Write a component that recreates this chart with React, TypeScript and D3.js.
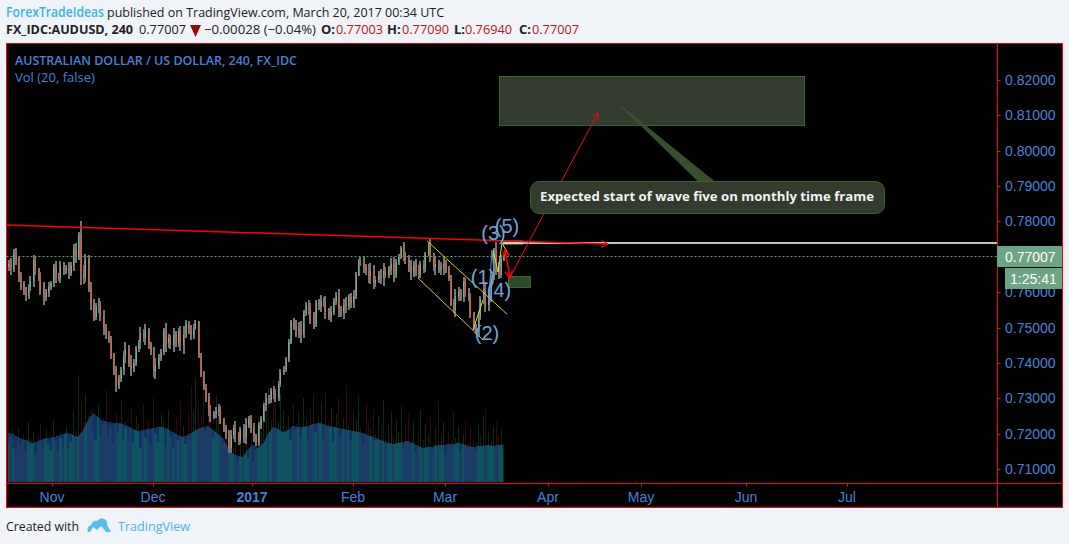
import React from "react";
import * as d3 from "d3";

const closes = [7680,7665,7712,7690,7640,7625,7600,7590,7615,7632,7690,7660,7640,7610,7585,7600,7615,7625,7670,7645,7640,7675,7660,7668,7655,7675,7722,7700,7762,7660,7640,7695,7610,7570,7530,7560,7565,7530,7500,7480,7465,7420,7375,7335,7355,7380,7420,7440,7400,7385,7400,7440,7455,7485,7470,7490,7450,7430,7375,7395,7415,7430,7490,7455,7470,7450,7480,7455,7490,7450,7480,7510,7490,7480,7500,7512,7420,7370,7330,7300,7265,7250,7255,7265,7270,7235,7215,7195,7160,7195,7215,7195,7180,7210,7190,7225,7240,7215,7190,7175,7225,7240,7280,7300,7295,7320,7315,7300,7340,7375,7380,7410,7460,7515,7505,7490,7495,7480,7540,7565,7550,7530,7510,7570,7560,7575,7570,7545,7530,7545,7575,7590,7550,7540,7565,7560,7585,7570,7590,7650,7690,7685,7670,7660,7645,7660,7625,7635,7650,7640,7660,7650,7665,7680,7650,7685,7700,7725,7705,7690,7670,7655,7675,7665,7650,7680,7665,7705,7735,7700,7670,7680,7665,7670,7680,7665,7640,7570,7550,7590,7600,7585,7630,7595,7590,7535,7500,7490,7530,7580,7610,7565,7580,7640,7720,7670,7650,7695,7701];
const wicks = [10,16,9,14,10,18,8,15,9,13,16,10,8,17,20,9,14,8,10,18,9,14,10,8,17,9,14,18,8,40,18,12,10,19,12,9,18,11,20,11,9,10,8,16,10,8,15,20,12,22,11,9,10,16,11,20,10,9,15,20,11,9,8,24,12,10,20,11,9,15,24,10,9,16,11,8,6,9,8,10,14,16,9,10,15,8,9,10,14,16,9,20,11,10,16,20,9,14,15,10,9,11,8,16,10,9,16,11,9,8,10,6,8,6,12,16,20,24,9,8,14,20,15,8,10,16,11,20,10,15,9,11,20,10,16,20,9,14,16,8,5,10,16,11,20,22,16,11,9,16,22,11,10,16,20,9,8,6,16,10,14,20,12,20,11,9,10,8,4,16,11,20,10,16,22,11,9,8,10,20,16,9,14,10,16,9,8,9,16,8,14,20,18,8,6,22,14,9,6];
const volumes = [46,52,40,38,55,42,48,36,60,44,50,34,46,58,40,52,44,38,62,48,36,50,42,56,40,46,70,52,107,78,60,88,66,72,58,48,76,54,64,92,50,62,44,70,56,82,48,60,52,74,46,66,58,40,78,50,62,44,84,54,46,68,60,42,72,52,40,64,48,80,56,44,68,96,72,104,80,66,90,58,74,62,50,86,70,56,44,60,40,52,34,48,28,44,36,58,30,46,26,38,64,50,82,70,94,62,102,76,60,88,72,56,66,48,78,58,70,52,84,62,48,72,88,56,66,80,50,90,60,74,46,68,84,52,64,96,58,48,70,62,86,54,44,78,60,52,72,48,66,56,82,44,58,70,46,62,50,76,40,56,68,44,60,36,52,72,42,58,48,64,38,54,80,46,60,34,50,42,70,44,56,36,48,62,40,54,44,38,58,46,66,72,50,42,56,60,46,52,38];
const volumeAverage = [49,48,45,43,41,39,41,43,44,45,46,48,49,47,45,52,62,69,65,61,60,59,59,58,56,53,51,52,53,54,55,55,53,50,47,45,47,50,53,55,56,52,48,44,35,28,26,25,33,37,34,38,48,55,53,50,52,56,55,55,56,58,59,58,56,55,54,53,52,51,50,49,47,45,43,41,39,38,39,40,41,39,36,34,35,35,37,37,38,38,39,38,36,35,36,36,37,36,37,37];

const monthTicks = [
  { bar: 17.6, label: "Nov", bold: false },
  { bar: 58, label: "Dec", bold: false },
  { bar: 97.6, label: "2017", bold: true },
  { bar: 138, label: "Feb", bold: false },
  { bar: 174.8, label: "Mar", bold: false },
  { bar: 216, label: "Apr", bold: false },
  { bar: 253.2, label: "May", bold: false },
  { bar: 295.2, label: "Jun", bold: false },
  { bar: 335.6, label: "Jul", bold: false },
];
const priceTicks = [8200,8100,8000,7900,7800,7700,7600,7500,7400,7300,7200,7100];
const waveLabels = [
  { bar: 194.2, pip: 7748, label: "(3)" },
  { bar: 199.6, pip: 7767, label: "(5)" },
  { bar: 190, pip: 7623, label: "(1)" },
  { bar: 196.4, pip: 7586, label: "(4)" },
  { bar: 191.6, pip: 7465, label: "(2)" },
];
const trendLine = [[-0.4, 7790], [240, 7736]];
const whiteLine = [[198, 7739], [395.6, 7739]];
const channelUpper = [[167.6, 7745], [199.6, 7538]];
const channelLower = [[164, 7640], [190, 7465]];
const waveA = [[186, 7493], [190, 7578]];
const waveB = [[194, 7719], [196, 7657], [197.6, 7739], [199.6, 7714]];
const waveBlue = [[192.4, 7592], [193.6, 7719], [194.4, 7657]];
const arrowShort = [[198.8, 7719], [200.8, 7640]];
const arrowLong = [[200.4, 7637], [236, 8107]];
const targetBox = [196.4, 318.4, 8211, 8073];
const boxSmallA = [200, 208.8, 7646, 7615];
const boxSmallB = [198, 205.6, 7747, 7736];
const calloutBox = [208.8, 350.4, 7914, 7824];
const calloutTip = [[276, 7914], [244.8, 8129], [282.4, 7914]];
const lastPrice = 7700.7;

const W = 1069, H = 544;
const L = 6.5, T = 43.5, PR = 997.5, R = 1062.5, PB = 483.5, B = 507.5;
const BLUE = "#4a80d8";
const RED = "#ff0000";
const x = d3.scaleLinear().domain([0, 395.6]).range([8, 997]);
const y = d3.scaleLinear().domain([8200, 7100]).range([80, 469]);
const vy = d3.scaleLinear().domain([0, 100]).range([482, 382]);
const lineGen = d3.line<number[]>().x(d => x(d[0])).y(d => y(d[1]));
const head = (p: number[][], size: number) => {
  const [a, b] = p;
  const ax = x(a[0]), ay = y(a[1]), bx = x(b[0]), by = y(b[1]);
  const t = Math.atan2(by - ay, bx - ax);
  const pt = (o: number) => `${bx - size * Math.cos(t + o)},${by - size * Math.sin(t + o)}`;
  return `M${pt(0.5)}L${bx},${by}L${pt(-0.5)}`;
};
const rectOf = (b: number[]) => ({
  x: Math.round(x(b[0])) + 0.5, y: Math.round(y(b[2])) + 0.5,
  width: Math.round(x(b[1]) - x(b[0])), height: Math.round(y(b[3]) - y(b[2])),
});
const ui = "'Open Sans', sans-serif";
const arial = "'Liberation Sans', Arial, sans-serif";
const INK = "#222";
const DARK = "#b01818";

export default function App() {
  const area = d3.area<number>().x((_, i) => x(i * 2)).y0(vy(0)).y1(d => vy(d));
  const areaPath = area(volumeAverage) || "";
  const ohlc: [string, string, number, number][] = [
    ["O:", "0.77003", 321, 336],
    ["H:", "0.77090", 387, 402],
    ["L:", "0.76940", 454, 465],
    ["C:", "0.77007", 519, 532],
  ];
  return (
    <svg width={W} height={H} style={{ position: "absolute", left: 0, top: 0, background: "#f0f3f7" }}>
      <text x={6} y={17} fontFamily={ui} fontSize={13.5} textLength={98} lengthAdjust="spacingAndGlyphs" fill="#3bb3e4" fontWeight={600}>ForexTradeIdeas</text>
      <text x={107} y={17} fontFamily={ui} fontSize={13.5} textLength={337} lengthAdjust="spacingAndGlyphs" fill={INK}>published on TradingView.com, March 20, 2017 00:34 UTC</text>
      <text x={6} y={34} fontFamily={ui} fontSize={13} fontWeight={700} fill={INK} textLength={127} lengthAdjust="spacingAndGlyphs">FX_IDC:AUDUSD, 240</text>
      <text x={139} y={34} fontFamily={ui} fontSize={13} fill={INK} textLength={47} lengthAdjust="spacingAndGlyphs">0.77007</text>
      <path d={d3.line()([[190, 25], [201, 25], [195.5, 37]]) + "Z"} fill="#8b0f0f" />
      <text x={204} y={34} fontFamily={ui} fontSize={13} fill={INK} textLength={112} lengthAdjust="spacingAndGlyphs">−0.00028 (−0.04%)</text>
      {ohlc.map(([k, v, kx, vx]) => (
        <g key={k}>
          <text x={kx} y={34} fontFamily={ui} fontSize={13} fontWeight={700} fill={INK}>{k}</text>
          <text x={vx} y={34} fontFamily={ui} fontSize={13} fill={DARK} textLength={47} lengthAdjust="spacingAndGlyphs">{v}</text>
        </g>
      ))}

      <rect x={L} y={T} width={R - L} height={B - T} fill="#000" stroke={RED} />

      <defs><clipPath id="maClip"><path d={areaPath} /></clipPath></defs>
      <g shapeRendering="crispEdges">
        {volumes.map((v, i) => (
          <rect key={i} x={Math.round(x(i))} width={1} y={vy(v)} height={vy(0) - vy(v)}
            fill={i > 0 && closes[i] < closes[i - 1] ? "#2c0c10" : "#0b2c11"} />
        ))}
        <path d={areaPath} fill="#0c3660" />
        <g clipPath="url(#maClip)">
          {volumes.map((v, i) => (
            <rect key={i} x={x(i) - 1.25} width={2.5} y={vy(v) + 6} height={vy(0) - vy(v) - 6}
              fill={i > 0 && closes[i] < closes[i - 1] ? "#1c3c66" : "#0f5260"} />
          ))}
        </g>
      </g>

      <line x1={L} x2={PR} y1={y(lastPrice)} y2={y(lastPrice)} stroke="#6ba583" strokeDasharray="2 2" />

      <g shapeRendering="crispEdges">
        {closes.map((c, i) => {
          const o = i > 0 ? closes[i - 1] : c - 10;
          return (
            <rect key={i} x={Math.round(x(i)) - (i % 2)} width={2} y={y(Math.max(o, c) + wicks[i])}
              height={y(Math.min(o, c) - wicks[i]) - y(Math.max(o, c) + wicks[i])} fill="#757575" />
          );
        })}
        {closes.map((c, i) => {
          const o = i > 0 ? closes[i - 1] : c - 10;
          return (
            <rect key={i} x={Math.round(x(i))} width={1} y={y(Math.max(o, c))}
              height={Math.max(1, y(Math.min(o, c)) - y(Math.max(o, c)))} fill={c >= o ? "#6fb28c" : "#f0583e"} />
          );
        })}
      </g>

      <rect {...rectOf(targetBox)} fill="#333b2e" stroke="#3c6626" />
      <rect {...rectOf(boxSmallA)} fill="#2f4a2a" stroke="#3c6626" />
      <rect {...rectOf(boxSmallB)} fill="#2f4a2a" stroke="#3c6626" />
      <path d={lineGen(whiteLine) || ""} stroke="#fff" strokeWidth={1.5} fill="none" />
      <path d={lineGen(trendLine) || ""} stroke={RED} strokeWidth={1.5} fill="none" />
      <path d={head(trendLine, 8)} stroke={RED} fill="none" />
      <path d={lineGen(channelUpper) || ""} stroke="#d4cc1e" fill="none" />
      <path d={lineGen(channelLower) || ""} stroke="#d4cc1e" fill="none" />
      <path d={lineGen(waveA) || ""} stroke="#e6dc20" fill="none" />
      <path d={lineGen(waveB) || ""} stroke="#e6dc20" fill="none" />
      <path d={lineGen(waveBlue) || ""} stroke="#5a8fc8" fill="none" />
      <path d={lineGen(arrowShort) || ""} stroke={RED} strokeWidth={1.5} fill="none" />
      <path d={head(arrowShort, 8)} stroke={RED} strokeWidth={1.5} fill="none" />
      <path d={head([arrowShort[1], arrowShort[0]], 7)} stroke={RED} strokeWidth={1.5} fill="none" />
      <path d={lineGen(arrowLong) || ""} stroke="#e80c14" fill="none" />
      <path d={head(arrowLong, 8)} stroke="#e80c14" fill="none" />

      <path d={lineGen(calloutTip) || ""} fill="#3a4f30" stroke="#3c6626" strokeWidth={0.5} />
      <rect {...rectOf(calloutBox)} rx={9} fill="#333b2e" stroke="#3c6626" />
      <text x={707} y={201} textAnchor="middle" fontFamily={ui} fontWeight={700} fontSize={13} fill="#f2f2f2"
        textLength={334} lengthAdjust="spacingAndGlyphs">Expected start of wave five on monthly time frame</text>

      {waveLabels.map(d => (
        <text key={d.label} x={x(d.bar)} y={y(d.pip)} textAnchor="middle" fontFamily={arial} fontSize={20} fill="#6fa3d8">{d.label}</text>
      ))}

      <line x1={PR} x2={PR} y1={T} y2={B} stroke={RED} />
      <line x1={L} x2={R} y1={PB} y2={PB} stroke={RED} />
      {monthTicks.map(d => (
        <g key={d.label}>
          <line x1={Math.round(x(d.bar)) + 0.5} x2={Math.round(x(d.bar)) + 0.5} y1={PB} y2={PB + 3} stroke={RED} />
          <text x={x(d.bar)} y={502} textAnchor="middle" fontFamily={arial} fontSize={14} fontWeight={d.bold ? 700 : 400} fill={BLUE}>{d.label}</text>
        </g>
      ))}
      {priceTicks.map(p => (
        <g key={p}>
          <line x1={PR} x2={PR + 3} y1={Math.round(y(p)) + 0.5} y2={Math.round(y(p)) + 0.5} stroke={RED} />
          <text x={1005} y={y(p) + 5} fontFamily={arial} fontSize={14} fill={BLUE}>{(p / 10000).toFixed(5)}</text>
        </g>
      ))}
      <rect x={997} y={246} width={65} height={21} fill="#6ca584" />
      <text x={1005} y={262} fontFamily={arial} fontSize={14} fill="#fff">{(lastPrice / 10000).toFixed(5)}</text>
      <rect x={1005} y={268} width={57} height={21} fill="#6ca584" />
      <text x={1010} y={284} fontFamily={arial} fontSize={14} fill="#fff">1:25:41</text>

      <text x={15} y={65} fontFamily={ui} fontWeight={600} fontSize={13} fill={BLUE} textLength={282} lengthAdjust="spacingAndGlyphs">AUSTRALIAN DOLLAR / US DOLLAR, 240, FX_IDC</text>
      <text x={15} y={82} fontFamily={ui} fontSize={13} fill={BLUE}>Vol (20, false)</text>

      <text x={6} y={531} fontFamily={ui} fontSize={13} fill={INK} textLength={73} lengthAdjust="spacingAndGlyphs">Created with</text>
      <path d="M88,532 Q86,527 91,525 Q93,520 97,521 Q101,516 106,520 Q108,523 107,525 L111,532 L106,532 L101,526 L97,530 L93,527 L90,532 Z" fill="#55c0ec" />
      <text x={118} y={531} fontFamily={ui} fontSize={13} fill="#4ab5e6" textLength={72} lengthAdjust="spacingAndGlyphs">TradingView</text>
    </svg>
  );
}
